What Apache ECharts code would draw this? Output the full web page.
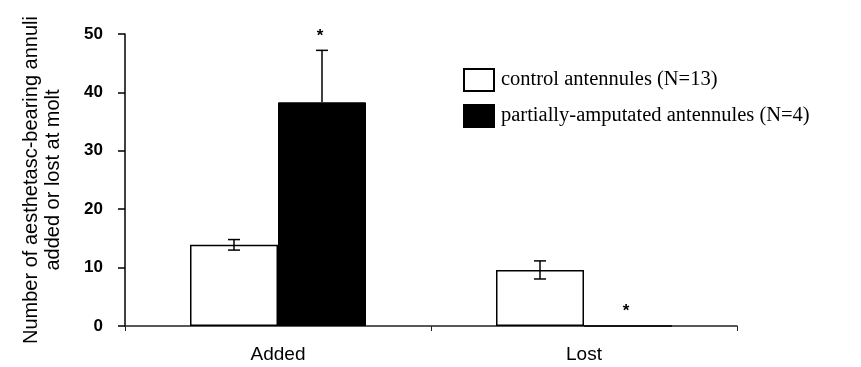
<!DOCTYPE html>
<html>
<head>
<meta charset="utf-8">
<script src="https://cdn.jsdelivr.net/npm/echarts@6/dist/echarts.min.js"></script>
<style>
  html, body { margin: 0; padding: 0; background: #fff; }
  #main { width: 861px; height: 367px; }
</style>
</head>
<body>
<div id="main"></div>
<script>
// 数据
var categories = ['Added', 'Lost'];
var controlMean = [13.9, 9.6];
var controlErr = [0.9, 1.55];
var amputMean = [38.3, 0];
var amputErr = [8.9, 0];
var amputSig = ['*', '*'];
var yTicks = [0, 10, 20, 30, 40, 50];

var BAR_W = 88;

var chart = echarts.init(document.getElementById('main'));

// 误差线 (offset: 柱子相对类目中心的偏移)
function errorSeries(mean, err, offset, bothSides) {
  return {
    type: 'custom',
    silent: true,
    z: 5,
    data: mean.map(function (m, i) { return [i, m, err[i]]; }),
    renderItem: function (params, api) {
      var i = api.value(0), m = api.value(1), e = api.value(2);
      if (!e) return null;
      var c = api.coord([i, m]);
      var top = api.coord([i, m + e]);
      var bot = bothSides ? api.coord([i, m - e]) : c;
      var x = c[0] + offset;
      var style = { stroke: '#000', lineWidth: 1.5 };
      var kids = [
        { type: 'line', shape: { x1: x, y1: top[1], x2: x, y2: bot[1] }, style: style },
        { type: 'line', shape: { x1: x - 6, y1: top[1], x2: x + 6, y2: top[1] }, style: style }
      ];
      if (bothSides) {
        kids.push({ type: 'line', shape: { x1: x - 6, y1: bot[1], x2: x + 6, y2: bot[1] }, style: style });
      }
      return { type: 'group', children: kids };
    }
  };
}

var option = {
  animation: false,
  backgroundColor: '#fff',
  grid: { left: 125, right: 124, top: 34, bottom: 41, outerBoundsMode: 'none', containLabel: false },
  legend: {
    orient: 'vertical',
    left: 463,
    top: 68,
    padding: 0,
    itemWidth: 30,
    itemHeight: 22,
    itemGap: 12,
    textStyle: { fontFamily: 'Liberation Serif', fontSize: 20.5, color: '#000', padding: [0, 0, 0, 2] },
    data: [
      { name: 'control antennules (N=13)', icon: 'rect' },
      { name: 'partially-amputated antennules (N=4)', icon: 'rect' }
    ]
  },
  xAxis: {
    type: 'category',
    data: categories,
    axisLine: { lineStyle: { color: '#222', width: 1.5 } },
    axisTick: { show: true, length: 5, lineStyle: { color: '#222' } },
    axisLabel: { fontFamily: 'Liberation Sans', fontSize: 19, color: '#000', margin: 19 }
  },
  yAxis: {
    type: 'value',
    min: yTicks[0],
    max: yTicks[yTicks.length - 1],
    interval: 10,
    name: 'Number of aesthetasc-bearing annuli\nadded or lost at molt',
    nameLocation: 'middle',
    nameGap: 61,
    nameTextStyle: { fontFamily: 'Liberation Sans', fontSize: 20, color: '#000', lineHeight: 22 },
    splitLine: { show: false },
    axisLine: { show: true, lineStyle: { color: '#000', width: 1.5 } },
    axisTick: { show: true, length: 7, lineStyle: { color: '#000', width: 1.5 } },
    axisLabel: { fontFamily: 'Liberation Sans', fontWeight: 'bold', fontSize: 17, color: '#000', margin: 22 }
  },
  series: [
    {
      name: 'control antennules (N=13)',
      type: 'bar',
      barWidth: BAR_W,
      barGap: '0%',
      data: controlMean,
      itemStyle: { color: '#fff', borderColor: '#000', borderWidth: 1.5 }
    },
    {
      name: 'partially-amputated antennules (N=4)',
      type: 'bar',
      barWidth: BAR_W,
      barGap: '0%',
      data: amputMean,
      itemStyle: { color: '#000', borderColor: '#000', borderWidth: 1 }
    },
    errorSeries(controlMean, controlErr, -BAR_W / 2, true),
    errorSeries(amputMean, amputErr, BAR_W / 2, false),
    // 显著性星号
    {
      type: 'custom',
      silent: true,
      z: 6,
      data: amputMean.map(function (m, i) { return [i, m + amputErr[i], amputSig[i]]; }),
      renderItem: function (params, api) {
        var i = api.value(0);
        var p = api.coord([i, api.value(1)]);
        return {
          type: 'text',
          style: {
            x: p[0] + BAR_W / 2 - 2,
            y: p[1] - 6,
            text: amputSig[i],
            fill: '#000',
            font: 'bold 17px Liberation Sans',
            align: 'center',
            verticalAlign: 'bottom'
          }
        };
      }
    }
  ]
};

chart.setOption(option);
</script>
</body>
</html>
